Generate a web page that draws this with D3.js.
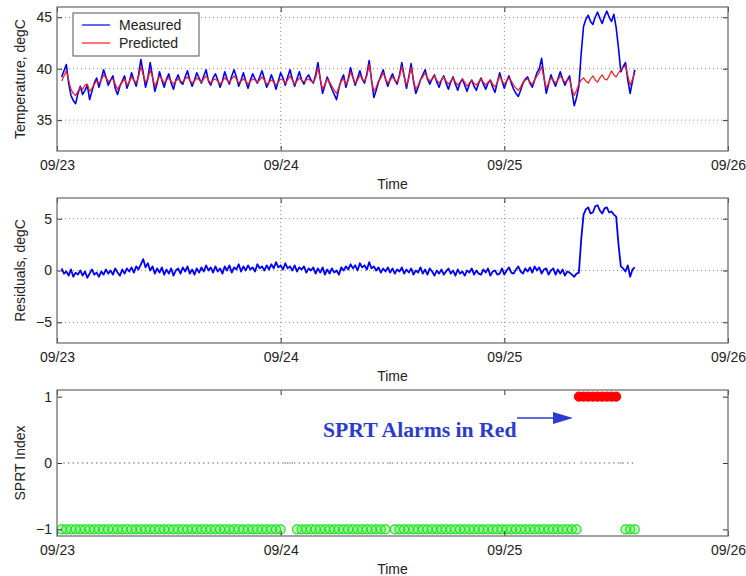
<!DOCTYPE html>
<html>
<head>
<meta charset="utf-8">
<script src="https://cdn.jsdelivr.net/npm/d3@7"></script>
<style>
  html, body { margin: 0; padding: 0; background: #fff; }
  svg { display: block; }
  text { font-family: "Liberation Sans", Arial, Helvetica, sans-serif; fill: #222; }
</style>
</head>
<body>
<svg id="chart" width="746" height="576"></svg>
<script>
// ---------------- DATA ----------------
const axisStart = new Date(2004, 8, 23);
const axisEnd = new Date(2004, 8, 26);
const dayTickLabels = ["09/23", "09/24", "09/25", "09/26"];

// samples: first at 00:30 on 09/23, every 15 minutes
const sampleStartHour = 0.5;
const sampleStepMinutes = 15;

const measured = [
  39.2, 39.8, 40.4, 38.6, 37.4, 36.9, 36.6, 37.6, 38.3, 37.5,
  37.9, 38.4, 37.0, 37.8, 38.6, 39.1, 38.2, 39.0, 39.9, 39.2,
  38.4, 38.9, 39.3, 38.1, 37.5, 38.3, 38.8, 39.3, 38.1, 38.7,
  39.6, 38.9, 38.3, 39.4, 40.9, 39.6, 38.2, 39.1, 40.6, 39.2,
  37.8, 38.6, 39.7, 38.9, 38.2, 39.0, 39.5, 38.6, 38.0, 38.9,
  39.4, 38.7, 38.5, 39.2, 39.8, 38.9, 38.3, 38.9, 39.6, 39.1,
  38.6, 39.3, 39.9, 38.8, 38.4, 39.1, 39.5, 38.9, 38.2, 38.8,
  39.7, 39.0, 38.5, 39.3, 39.9, 39.2, 38.3, 38.9, 39.6, 38.8,
  38.1, 38.9, 39.5, 39.0, 38.6, 39.2, 39.8, 39.0, 38.2, 38.7,
  39.4, 38.8, 38.0, 38.8, 39.6, 39.1, 38.4, 39.2, 39.9, 39.0,
  38.3, 39.0, 39.7, 38.9, 38.5, 39.1, 39.4, 38.9, 38.6, 39.4,
  40.6, 39.0, 37.6, 38.4, 39.2, 38.6, 38.0, 37.5, 37.0, 38.1,
  38.9, 39.4, 38.2, 39.0, 40.1, 39.2, 38.4, 39.1, 39.8, 39.0,
  38.6, 39.5, 40.8, 38.9, 37.2, 37.9, 38.7, 39.3, 39.9, 39.0,
  38.3, 39.0, 39.5, 38.9, 38.5, 39.4, 40.6, 39.3, 38.1, 39.2,
  40.5, 38.8, 37.6, 38.2, 38.9, 39.4, 39.9, 39.0, 38.5, 39.0,
  39.4, 38.7, 38.2, 38.9, 39.3, 38.6, 38.0, 38.7, 39.2, 38.5,
  37.9, 38.6, 39.0, 38.4, 37.8, 38.5, 38.9, 38.3, 37.9, 38.6,
  39.1, 38.5, 38.0, 38.6, 38.9, 38.2, 37.7, 38.7, 39.6, 38.8,
  38.1, 38.8, 39.3, 38.6, 38.0, 37.6, 37.3, 37.9, 38.6, 39.0,
  39.2, 38.6, 38.2, 38.9, 39.6, 40.0, 41.0, 39.2, 37.6, 38.5,
  39.4, 38.8, 38.3, 39.0, 39.7, 39.0, 38.4, 38.9, 39.3, 37.8,
  36.4, 37.2, 38.3, 41.5, 44.1, 44.8, 45.2, 44.6, 44.3, 45.0,
  45.5, 44.9, 44.4, 45.1, 45.6, 45.0, 44.6, 45.3, 44.0, 42.0,
  39.7, 40.2, 40.6, 38.9, 37.6, 38.8, 39.9
];

const predicted = [
  38.8, 39.3, 39.8, 38.9, 38.0, 37.6, 37.4, 37.8, 38.2, 38.0,
  38.4, 38.5, 37.8, 38.1, 38.5, 38.8, 38.6, 38.9, 39.4, 39.1,
  38.8, 38.9, 39.0, 38.5, 38.0, 38.4, 38.7, 39.0, 38.4, 38.7,
  39.2, 38.9, 38.6, 39.2, 40.2, 39.4, 38.7, 39.0, 39.9, 39.2,
  38.3, 38.8, 39.3, 39.0, 38.6, 38.9, 39.1, 38.8, 38.5, 38.8,
  39.0, 38.8, 38.7, 39.0, 39.2, 38.9, 38.6, 38.8, 39.1, 38.9,
  38.7, 39.0, 39.3, 38.9, 38.6, 38.9, 39.0, 38.8, 38.5, 38.8,
  39.1, 38.9, 38.7, 39.0, 39.3, 39.0, 38.6, 38.8, 39.0, 38.8,
  38.5, 38.8, 39.0, 38.9, 38.7, 38.9, 39.2, 38.9, 38.5, 38.7,
  38.9, 38.7, 38.4, 38.7, 39.0, 38.9, 38.6, 38.9, 39.3, 38.9,
  38.5, 38.8, 39.1, 38.9, 38.7, 38.9, 39.0, 38.8, 38.7, 39.1,
  40.1, 39.0, 38.0, 38.5, 39.0, 38.7, 38.3, 37.9, 37.6, 38.2,
  38.8, 39.0, 38.5, 38.9, 39.7, 39.1, 38.6, 38.9, 39.4, 39.0,
  38.8, 39.3, 40.4, 38.9, 37.8, 38.2, 38.8, 39.1, 39.6, 39.0,
  38.6, 38.9, 39.2, 38.9, 38.7, 39.2, 40.2, 39.2, 38.4, 39.1,
  40.1, 38.9, 38.0, 38.4, 38.9, 39.2, 39.6, 39.1, 38.8, 39.0,
  39.3, 38.9, 38.6, 38.9, 39.2, 38.8, 38.5, 38.8, 39.1, 38.7,
  38.4, 38.7, 39.0, 38.7, 38.3, 38.6, 38.9, 38.6, 38.4, 38.7,
  39.0, 38.7, 38.4, 38.7, 38.9, 38.5, 38.2, 38.7, 39.3, 38.8,
  38.5, 38.8, 39.1, 38.8, 38.4, 38.1, 37.9, 38.2, 38.7, 38.9,
  39.0, 38.7, 38.5, 38.9, 39.3, 39.6, 40.2, 39.1, 38.1, 38.6,
  39.1, 38.9, 38.6, 38.9, 39.3, 39.0, 38.7, 38.9, 39.0, 38.0,
  37.4, 37.9, 38.5, 38.9, 39.1, 38.8, 38.6, 39.0, 39.3, 38.9,
  38.7, 39.1, 39.4, 39.0, 38.9, 39.3, 39.8, 39.4, 39.2, 39.6,
  39.9, 40.1, 40.3, 39.3, 38.4, 39.0, 39.6
];

const residuals = [
   0.2, -0.3, -0.1, -0.5,  0.1, -0.6, -0.2, -0.4,  0.0, -0.5,
  -0.1, -0.7, -0.3,  0.1, -0.4, -0.2, -0.6, -0.1, -0.4,  0.1,
  -0.3,  0.0, -0.4,  0.2, -0.2, -0.5,  0.1, -0.3,  0.2, -0.1,
   0.3, -0.2,  0.4,  0.1,  0.6,  1.1,  0.3,  0.7,  0.0,  0.4,
  -0.3,  0.2, -0.2,  0.3, -0.4,  0.1, -0.3,  0.2, -0.5,  0.0,
   0.2, -0.3,  0.3, -0.1,  0.4, -0.3,  0.1, -0.4,  0.2, -0.2,
   0.3, -0.1,  0.5,  0.0,  0.3, -0.2,  0.4, -0.1,  0.2, -0.3,
   0.4,  0.0,  0.5, -0.2,  0.3,  0.1,  0.6, -0.1,  0.4,  0.0,
   0.5,  0.1,  0.3, -0.1,  0.6,  0.2,  0.4,  0.0,  0.5,  0.1,
   0.6,  0.2,  0.8,  0.3,  0.5,  0.1,  0.7,  0.2,  0.4,  0.0,
   0.5, -0.1,  0.3,  0.1,  0.4, -0.2,  0.2,  0.0,  0.3, -0.3,
   0.2, -0.2,  0.3, -0.4,  0.1, -0.3,  0.2, -0.2,  0.0, -0.4,
   0.3,  0.0,  0.4,  0.1,  0.6,  0.2,  0.5,  0.0,  0.7,  0.3,
   0.5,  0.1,  0.8,  0.2,  0.4,  0.0,  0.3, -0.2,  0.2, -0.1,
   0.3, -0.2,  0.2, -0.3,  0.1, -0.1,  0.3, -0.3,  0.1, -0.2,
   0.2, -0.4,  0.0, -0.2,  0.3, -0.3,  0.1, -0.4,  0.2, -0.1,
  -0.5,  0.0, -0.3,  0.1, -0.4, -0.1,  0.2, -0.3,  0.0, -0.5,
   0.1, -0.3, -0.1, -0.5,  0.0, -0.2,  0.2, -0.4,  0.0, -0.3,
  -0.4,  0.1, -0.2,  0.2, -0.5, -0.1,  0.0, -0.4, -0.3,  0.2,
  -0.4,  0.0,  0.3, -0.2, -0.3,  0.1,  0.4, -0.1, -0.3,  0.2,
  -0.1,  0.3, -0.2,  0.4,  0.0,  0.3, -0.3,  0.1,  0.2, -0.4,
   0.0,  0.2, -0.4,  0.1, -0.3,  0.1, -0.5, -0.1, -0.2, -0.4,
  -0.6, -0.3, -0.2,  3.0,  5.4,  5.9,  6.1,  5.5,  5.6,  6.2,
   6.3,  5.8,  5.5,  6.0,  6.1,  5.6,  5.7,  5.4,  5.2,  2.5,
   0.4,  0.2, -0.1,  0.5, -0.6,  0.1,  0.3
];

// SPRT decisions: first at 00:30 on 09/23, every 15 minutes (-1 normal, 0 undecided, 1 alarm)
const sprtStepMinutes = 15;
const sprtIndex = [
  -1,0,-1,0,-1,0,-1,0,-1,0,
  -1,0,-1,0,-1,0,-1,0,-1,0,
  -1,0,-1,0,-1,0,-1,0,-1,0,
  -1,0,-1,0,-1,0,-1,0,-1,0,
  -1,0,-1,0,-1,0,-1,0,-1,0,
  -1,0,-1,0,-1,0,-1,0,-1,0,
  -1,0,-1,0,-1,0,-1,0,-1,0,
  -1,0,-1,0,-1,0,-1,0,-1,0,
  -1,0,-1,0,-1,0,-1,0,-1,0,
  -1,0,-1,0,-1,0,0,0,0,0,
  0,-1,0,-1,0,-1,0,-1,0,-1,
  0,-1,0,-1,0,-1,0,-1,0,-1,
  0,-1,0,-1,0,-1,0,-1,0,-1,
  0,-1,0,-1,0,-1,0,-1,0,-1,
  0,0,0,-1,0,-1,0,-1,0,-1,
  0,-1,0,-1,0,-1,0,-1,0,-1,
  0,-1,0,-1,0,-1,0,-1,0,-1,
  0,-1,0,-1,0,-1,0,-1,0,-1,
  0,-1,0,-1,0,-1,0,-1,0,-1,
  0,-1,0,-1,0,-1,0,-1,0,-1,
  0,-1,0,-1,0,-1,0,-1,0,-1,
  0,-1,0,-1,0,-1,0,-1,0,-1,
  0,-1,1,0,1,0,1,0,1,0,
  1,0,1,0,1,0,1,0,1,0,
  0,0,-1,0,-1,0,-1
];

const tempTicks = [35, 40, 45];
const residTicks = [-5, 0, 5];
const sprtTicks = [-1, 0, 1];

// ---------------- DRAW ----------------
const svg = d3.select("#chart");
const left = 57, right = 728;
const x = d3.scaleTime().domain([axisStart, axisEnd]).range([left, right]);
const dayTicks = d3.timeDay.range(axisStart, d3.timeDay.offset(axisEnd, 1));
const fmtTick = (d, i) => dayTickLabels[i];

const sampleTime = i => new Date(axisStart.getTime() + (sampleStartHour * 60 + i * sampleStepMinutes) * 60000);
const sprtTime = i => new Date(axisStart.getTime() + (sampleStartHour * 60 + i * sprtStepMinutes) * 60000);

function panel(top, bottom, domain, ticks, grid, label) {
  const y = d3.scaleLinear().domain(domain).range([bottom, top]);
  const g = svg.append("g");
  g.append("rect").attr("x", left).attr("y", top).attr("width", right - left).attr("height", bottom - top)
    .attr("fill", "#fff");
  if (grid) {
    g.append("g").selectAll("line").data(ticks).join("line")
      .attr("x1", left).attr("x2", right).attr("y1", d => y(d)).attr("y2", d => y(d))
      .attr("stroke", "#8a8a8a").attr("stroke-width", 1).attr("stroke-dasharray", "1,3");
    g.append("g").selectAll("line").data(dayTicks.slice(1, -1)).join("line")
      .attr("x1", d => x(d)).attr("x2", d => x(d)).attr("y1", top).attr("y2", bottom)
      .attr("stroke", "#8a8a8a").attr("stroke-width", 1).attr("stroke-dasharray", "1,3");
  }
  const plot = g.append("g");
  const tickStyle = sel => { sel.select(".domain").remove(); sel.selectAll("text").remove();
    sel.selectAll("line").attr("stroke", "#333"); };
  g.append("g").attr("transform", `translate(0,${top})`).call(d3.axisBottom(x).tickValues(dayTicks).tickSize(5)).call(tickStyle);
  g.append("g").attr("transform", `translate(0,${bottom})`).call(d3.axisTop(x).tickValues(dayTicks).tickSize(5)).call(tickStyle);
  g.append("g").attr("transform", `translate(${left},0)`).call(d3.axisRight(y).tickValues(ticks).tickSize(5)).call(tickStyle);
  g.append("g").attr("transform", `translate(${right},0)`).call(d3.axisLeft(y).tickValues(ticks).tickSize(5)).call(tickStyle);
  g.append("rect").attr("x", left).attr("y", top).attr("width", right - left).attr("height", bottom - top)
    .attr("fill", "none").attr("stroke", "#707070").attr("stroke-width", 1.3);
  const xl = g.append("g").attr("transform", `translate(0,${bottom})`)
    .call(d3.axisBottom(x).tickValues(dayTicks).tickFormat(fmtTick).tickSize(0).tickPadding(9));
  xl.select(".domain").remove();
  xl.selectAll("text").attr("font-size", 14).attr("fill", "#222").style("font-family", "Liberation Sans, Arial, sans-serif");
  const yl = g.append("g").attr("transform", `translate(${left},0)`)
    .call(d3.axisLeft(y).tickValues(ticks).tickFormat(d => d < 0 ? "\u2212" + Math.abs(d) : d).tickSize(0).tickPadding(5));
  yl.select(".domain").remove();
  yl.selectAll("text").attr("font-size", 14).attr("fill", "#222").style("font-family", "Liberation Sans, Arial, sans-serif");
  g.append("text").attr("x", (left + right) / 2).attr("y", bottom + 38).attr("text-anchor", "middle")
    .attr("font-size", 14).text("Time");
  g.append("text").attr("transform", `translate(25,${(top + bottom) / 2}) rotate(-90)`).attr("text-anchor", "middle")
    .attr("font-size", 14).text(label);
  return { y, plot };
}

// Panel 1: temperature
const p1 = panel(7, 151, [32, 46], tempTicks, true, "Temperature, degC");
const line1 = d3.line().x((d, i) => x(sampleTime(i))).y(d => p1.y(d));
p1.plot.append("path").datum(measured).attr("d", line1).attr("fill", "none")
  .attr("stroke", "#0000ff").attr("stroke-width", 1.6).attr("stroke-linejoin", "round");
p1.plot.append("path").datum(predicted).attr("d", line1).attr("fill", "none")
  .attr("stroke", "#ff1a1a").attr("stroke-width", 1.2).attr("stroke-linejoin", "round");

// legend
const lg = svg.append("g");
lg.append("rect").attr("x", 73).attr("y", 13).attr("width", 126).attr("height", 43)
  .attr("fill", "#fff").attr("stroke", "#707070").attr("stroke-width", 1.2);
lg.append("line").attr("x1", 82).attr("x2", 110).attr("y1", 25).attr("y2", 25).attr("stroke", "#0000ff").attr("stroke-width", 1.2);
lg.append("line").attr("x1", 82).attr("x2", 110).attr("y1", 43).attr("y2", 43).attr("stroke", "#ff1a1a").attr("stroke-width", 1.2);
lg.append("text").attr("x", 119).attr("y", 30).attr("font-size", 14).text("Measured");
lg.append("text").attr("x", 119).attr("y", 48).attr("font-size", 14).text("Predicted");

// Panel 2: residuals
const p2 = panel(198, 343, [-7, 7], residTicks, true, "Residuals, degC");
const line2 = d3.line().x((d, i) => x(sampleTime(i))).y(d => p2.y(d));
p2.plot.append("path").datum(residuals).attr("d", line2).attr("fill", "none")
  .attr("stroke", "#0000ff").attr("stroke-width", 1.8).attr("stroke-linejoin", "round");

// Panel 3: SPRT
const p3 = panel(390, 536, [-1.1, 1.1], sprtTicks, false, "SPRT Index");
const sprtData = sprtIndex.map((v, i) => ({ t: sprtTime(i), v }));
p3.plot.append("g").selectAll("rect").data(sprtData.filter(d => d.v === 0)).join("rect")
  .attr("x", d => x(d.t) - 0.7).attr("y", p3.y(0) - 0.7).attr("width", 1.4).attr("height", 1.4)
  .attr("fill", "#8a8a8a");
p3.plot.append("g").selectAll("circle").data(sprtData.filter(d => d.v === -1)).join("circle")
  .attr("cx", d => x(d.t)).attr("cy", d => p3.y(d.v)).attr("r", 4.5)
  .attr("fill", "rgba(60,235,60,0.3)").attr("stroke", "#1fe01f").attr("stroke-width", 1.2);
p3.plot.append("g").selectAll("circle").data(sprtData.filter(d => d.v === 1)).join("circle")
  .attr("cx", d => x(d.t)).attr("cy", d => p3.y(d.v)).attr("r", 4.6)
  .attr("fill", "#ff0000").attr("stroke", "#ff0000").attr("stroke-width", 1);

// annotation
const ann = svg.append("g");
ann.append("text").attr("x", 323).attr("y", 437).attr("font-size", 21.7).attr("font-weight", "bold")
  .style("font-family", "Liberation Serif, Times New Roman, serif").style("fill", "#2b3bd0")
  .text("SPRT Alarms in Red");
ann.append("line").attr("x1", 517).attr("x2", 556).attr("y1", 418).attr("y2", 418)
  .attr("stroke", "#2b3bd0").attr("stroke-width", 1.6);
ann.append("path").attr("d", "M553,412 L573,418 L553,424 Z").attr("fill", "#2b3bd0");
</script>
</body>
</html>
